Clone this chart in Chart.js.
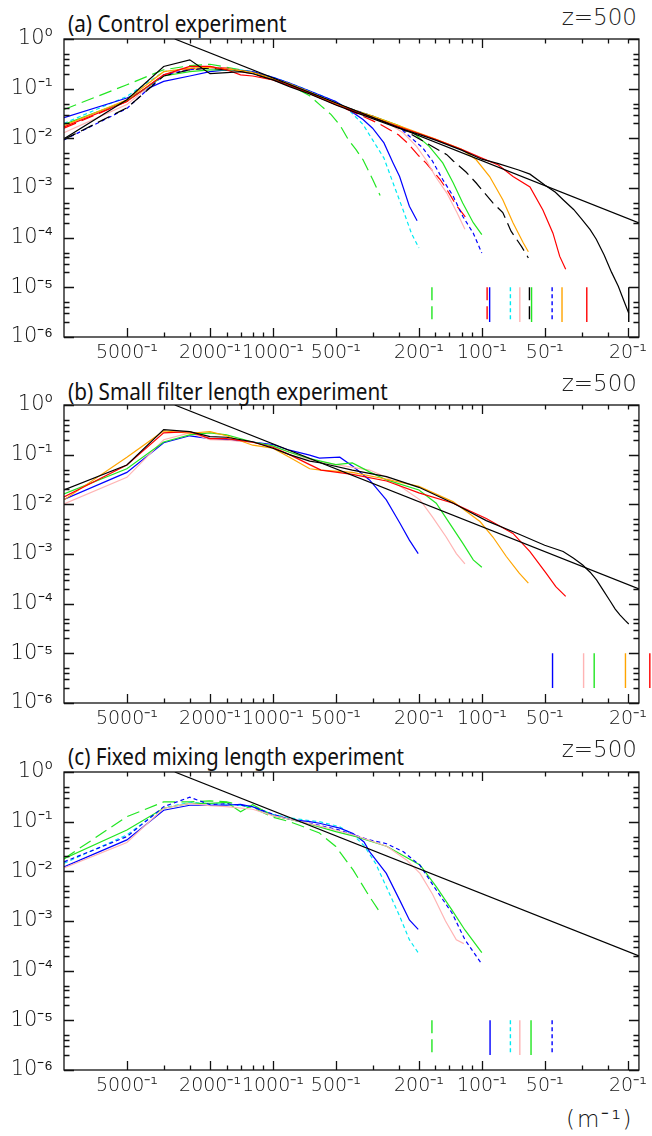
<!DOCTYPE html>
<html>
<head>
<meta charset="utf-8">
<script src="https://cdn.jsdelivr.net/npm/chart.js@4.4.1/dist/chart.umd.min.js"></script>
<style>
  body { margin: 0; background: #fff; width: 652px; height: 1136px; position: relative; overflow: hidden; }
  canvas { position: absolute; left: 0; }
  .ttl { position: absolute; left: 68px; font-family: "Noto Sans", sans-serif; font-size: 23px; line-height: 1; color: #111;
         transform: scaleX(0.9); transform-origin: left top; white-space: nowrap; }
  .z { position: absolute; right: 15px; font-family: "DejaVu Sans", sans-serif; font-weight: 200; font-size: 23px; line-height: 1; color: #222; }
  .unit { position: absolute; left: 566px; top: 1108px; font-family: "DejaVu Sans", sans-serif; font-weight: 200; font-size: 23px;
          line-height: 1; color: #111; letter-spacing: 2px; }
</style>
</head>
<body>
<div class="ttl" style="top:12px">(a) Control experiment</div>
<div class="z" style="top:6px">z=500</div>
<canvas id="chartA"></canvas>
<div class="ttl" style="top:380px">(b) Small filter length experiment</div>
<div class="z" style="top:372px">z=500</div>
<canvas id="chartB"></canvas>
<div class="ttl" style="top:745px">(c) Fixed mixing length experiment</div>
<div class="z" style="top:738px">z=500</div>
<canvas id="chartC"></canvas>
<div class="unit">(m⁻¹)</div>

<script>
// wavenumber index n : k = n / 10000 m^-1
const xTickVals = [2, 5, 10, 20, 50, 100, 200, 500];
const xTickLabels = ['5000⁻¹', '2000⁻¹', '1000⁻¹', '500⁻¹', '200⁻¹', '100⁻¹', '50⁻¹', '20⁻¹'];
const xMinor = [3, 4, 6, 7, 8, 9, 30, 40, 60, 70, 80, 90, 300, 400];
const yTickVals = [1e-6, 1e-5, 1e-4, 1e-3, 1e-2, 1e-1, 1];
const yTickLabels = ['10⁻⁶', '10⁻⁵', '10⁻⁴', '10⁻³', '10⁻²', '10⁻¹', '10⁰'];
const yMinor = [2, 3, 4, 5];

// -5/3 reference line
const refK = [3.39, 565];
const refE = [1, 1.98e-4];

// (a) Control experiment
const aGreenDashK = [1, 2, 3, 4, 5, 6, 7, 8, 10, 12, 15, 17, 19, 21, 23, 25, 27, 30, 32.6];
const aGreenDashE = [0.038, 0.12, 0.24, 0.29, 0.31, 0.27, 0.24, 0.21, 0.16, 0.12, 0.072, 0.045, 0.030, 0.018, 0.0093, 0.0059, 0.0037, 0.0015, 0.00071];
const aCyanDashK = [1, 2, 3, 4, 5, 6, 7, 8, 10, 12, 15, 20, 23, 27, 30, 34, 37.6, 42, 46, 50];
const aCyanDashE = [0.020, 0.07, 0.22, 0.26, 0.26, 0.25, 0.24, 0.22, 0.17, 0.13, 0.09, 0.055, 0.038, 0.019, 0.0093, 0.0040, 0.00126, 0.00036, 0.000123, 0.000062];
const aBlueK = [1, 2, 3, 4, 5, 6, 7, 8, 10, 12, 15, 20, 23, 27, 30, 34, 37.6, 40.4, 45, 49];
const aBlueE = [0.026, 0.065, 0.14, 0.18, 0.22, 0.24, 0.23, 0.22, 0.17, 0.13, 0.09, 0.055, 0.038, 0.024, 0.016, 0.0081, 0.0032, 0.0017, 0.00043, 0.00022];
const aRedDashK = [1, 2, 3, 4, 5, 6, 7, 8, 10, 12, 15, 20, 25, 32, 40, 44, 50, 54, 63, 68, 76, 84];
const aRedDashE = [0.016, 0.055, 0.19, 0.25, 0.27, 0.26, 0.22, 0.20, 0.15, 0.12, 0.08, 0.048, 0.032, 0.020, 0.0117, 0.0081, 0.0044, 0.0032, 0.0015, 0.00093, 0.00043, 0.00025];
const aPinkK = [1, 2, 3, 4, 5, 6, 7, 8, 10, 12, 15, 20, 25, 30, 35, 42, 48.7, 54, 60, 68, 76, 83];
const aPinkE = [0.013, 0.048, 0.19, 0.24, 0.26, 0.25, 0.23, 0.21, 0.16, 0.12, 0.085, 0.05, 0.035, 0.027, 0.021, 0.0129, 0.0069, 0.0037, 0.0017, 0.00079, 0.00032, 0.000148];
const aGreenK = [1, 2, 3, 4, 5, 6, 7, 8, 10, 12, 15, 20, 25, 30, 40, 47, 56, 65, 73, 81, 91, 100];
const aGreenE = [0.019, 0.057, 0.18, 0.22, 0.24, 0.24, 0.23, 0.21, 0.16, 0.125, 0.085, 0.05, 0.036, 0.028, 0.018, 0.0129, 0.0069, 0.0032, 0.00126, 0.0005, 0.0002, 0.000115];
const aBlueDashK = [1, 2, 3, 4, 5, 6, 7, 8, 10, 12, 15, 20, 25, 30, 40, 45, 52, 58, 65, 73, 81, 91, 100];
const aBlueDashE = [0.0093, 0.04, 0.19, 0.24, 0.27, 0.25, 0.23, 0.21, 0.16, 0.125, 0.085, 0.05, 0.036, 0.028, 0.017, 0.011, 0.0065, 0.0035, 0.00148, 0.00068, 0.00027, 0.000123, 0.000049];
const aBlackDashK = [1, 2, 3, 4, 5, 6, 7, 8, 10, 12, 15, 20, 25, 30, 40, 54, 68, 73, 84, 94, 113, 126, 138, 155, 167];
const aBlackDashE = [0.0095, 0.041, 0.18, 0.24, 0.26, 0.24, 0.23, 0.21, 0.16, 0.12, 0.083, 0.05, 0.035, 0.027, 0.017, 0.0081, 0.0047, 0.0035, 0.0021, 0.00126, 0.0005, 0.00032, 0.000135, 0.000066, 0.000039];
const aOrangeK = [1, 2, 3, 4, 5, 6, 7, 8, 10, 12, 15, 20, 25, 30, 40, 50, 60, 80, 94, 109, 126, 141, 158, 167];
const aOrangeE = [0.018, 0.06, 0.22, 0.26, 0.27, 0.25, 0.23, 0.21, 0.16, 0.125, 0.085, 0.05, 0.036, 0.028, 0.018, 0.0128, 0.0097, 0.006, 0.0037, 0.0017, 0.00058, 0.0002, 0.000078, 0.000052];
const aRedK = [1, 2, 3, 4, 5, 6, 7, 8, 10, 12, 15, 20, 25, 30, 40, 50, 60, 80, 100, 120, 141, 170, 196, 219, 236, 252];
const aRedE = [0.017, 0.055, 0.19, 0.28, 0.28, 0.24, 0.19, 0.18, 0.15, 0.115, 0.08, 0.048, 0.034, 0.026, 0.017, 0.0125, 0.0095, 0.006, 0.004, 0.0029, 0.0017, 0.00105, 0.00036, 0.000123, 0.000042, 0.000023];
const aBlackK = [1, 2, 3, 4, 5, 6, 7, 8, 10, 12, 15, 20, 25, 30, 40, 50, 60, 80, 100, 120, 150, 170, 200, 225, 245, 275, 300, 330, 353, 385, 418, 450, 480, 505];
const aBlackE = [0.0098, 0.06, 0.28, 0.38, 0.2, 0.21, 0.22, 0.2, 0.15, 0.11, 0.078, 0.047, 0.033, 0.025, 0.016, 0.012, 0.0092, 0.0058, 0.0038, 0.0031, 0.0023, 0.0019, 0.00115, 0.00082, 0.00058, 0.00037, 0.00024, 0.000145, 0.000093, 0.000045, 0.000020, 0.0000105, 0.0000052, 0.000003];
// cutoff marks (a)
const aMarkK = [57.7, 106, 109, 137, 152, 169, 173, 217, 242, 318, 505];

// (b) Small filter length experiment
const bBlueK = [1, 2, 3, 4, 5, 6, 8, 10, 12, 15, 16.7, 20.9, 24.2, 29, 34.9, 40.5, 45, 49.6];
const bBlueE = [0.0126, 0.044, 0.174, 0.24, 0.21, 0.20, 0.18, 0.16, 0.123, 0.098, 0.085, 0.089, 0.058, 0.031, 0.0123, 0.0042, 0.0019, 0.00102];
const bPinkK = [1, 2, 3, 4, 5, 6, 8, 10, 12, 15, 20, 29, 35, 42, 50.6, 58, 67.5, 75.5, 83];
const bPinkE = [0.0102, 0.035, 0.2, 0.275, 0.2, 0.195, 0.178, 0.148, 0.112, 0.079, 0.063, 0.049, 0.035, 0.021, 0.0123, 0.0056, 0.0022, 0.00102, 0.00063];
const bGreenK = [1, 2, 3, 4, 5, 6, 8, 10, 12, 15, 20, 24, 29, 35, 50, 60.5, 70, 81, 91, 100];
const bGreenE = [0.0162, 0.052, 0.18, 0.25, 0.275, 0.25, 0.18, 0.15, 0.112, 0.083, 0.063, 0.068, 0.045, 0.031, 0.0195, 0.0105, 0.0042, 0.00166, 0.00076, 0.00054];
const bOrangeK = [1, 2, 3, 4, 5, 6, 8, 10, 12, 15, 17, 24, 35, 50, 73, 98, 113, 131, 151, 167];
const bOrangeE = [0.0123, 0.089, 0.30, 0.27, 0.29, 0.24, 0.155, 0.135, 0.089, 0.052, 0.049, 0.044, 0.032, 0.023, 0.0112, 0.0045, 0.0022, 0.00089, 0.00041, 0.00026];
const bRedK = [1, 2, 3, 4, 5, 6, 8, 10, 12, 15, 17, 24, 35, 50, 73, 105, 141, 170, 203, 226, 252];
const bRedE = [0.0141, 0.062, 0.275, 0.29, 0.21, 0.21, 0.178, 0.141, 0.1, 0.063, 0.049, 0.04, 0.0295, 0.017, 0.0105, 0.0052, 0.0026, 0.00112, 0.00041, 0.00022, 0.00014];
const bBlackK = [1, 2, 3, 4, 5, 6, 8, 10, 12, 15, 17, 24, 35, 50, 73, 105, 151, 200, 245, 275, 304, 330, 354, 380, 409, 435, 459, 485, 505];
const bBlackE = [0.0195, 0.062, 0.32, 0.29, 0.23, 0.224, 0.182, 0.135, 0.1, 0.074, 0.068, 0.049, 0.036, 0.022, 0.0105, 0.0047, 0.0025, 0.0015, 0.00112, 0.00082, 0.0006, 0.00043, 0.0003, 0.00019, 0.000117, 0.000078, 0.000059, 0.000046, 0.000039];
const bMarkK = [218, 307, 345, 487, 637];

// (c) Fixed mixing length experiment
const cGreenDashK = [1, 2, 3, 4, 5, 6, 8, 10, 12, 14, 16.7, 20, 24.2, 29, 32.6];
const cGreenDashE = [0.018, 0.126, 0.25, 0.25, 0.263, 0.25, 0.19, 0.123, 0.1, 0.079, 0.059, 0.0316, 0.0107, 0.0031, 0.00148];
const cGreenK = [1, 2, 3, 4, 5, 6, 7, 8, 10, 12, 15, 20, 25, 35, 50.6, 60.5, 72, 83, 100];
const cGreenE = [0.018, 0.068, 0.186, 0.234, 0.234, 0.245, 0.158, 0.219, 0.132, 0.112, 0.089, 0.063, 0.05, 0.032, 0.0135, 0.0049, 0.00166, 0.00066, 0.00023];
const cBlueDashK = [1, 2, 3, 4, 5, 6, 8, 10, 12, 15, 20, 29, 35, 42, 50.6, 60.5, 72, 83, 100];
const cBlueDashE = [0.0155, 0.05, 0.2, 0.31, 0.22, 0.23, 0.2, 0.141, 0.112, 0.093, 0.071, 0.043, 0.036, 0.025, 0.0132, 0.0042, 0.00145, 0.00042, 0.000135];
const cCyanDashK = [1, 2, 3, 4, 5, 6, 8, 10, 12, 15, 16.7, 20.9, 24.2, 27.3, 31, 34.9, 40.5, 45, 49.6];
const cCyanDashE = [0.0145, 0.054, 0.19, 0.245, 0.23, 0.224, 0.2, 0.141, 0.12, 0.105, 0.1, 0.079, 0.054, 0.033, 0.0145, 0.0049, 0.00123, 0.00042, 0.00023];
const cBlueK = [1, 2, 3, 4, 5, 6, 7, 8, 10, 12, 15, 16.7, 20.9, 24.2, 27.3, 29, 34.9, 40.5, 45, 49.6];
const cBlueE = [0.0123, 0.043, 0.17, 0.214, 0.214, 0.214, 0.224, 0.2, 0.135, 0.112, 0.1, 0.093, 0.074, 0.058, 0.039, 0.025, 0.0091, 0.0026, 0.00105, 0.00068];
const cPinkK = [1, 2, 3, 4, 5, 6, 8, 10, 12, 15, 20, 25, 35, 43.6, 50.6, 58, 67, 75.5, 82];
const cPinkE = [0.0117, 0.038, 0.186, 0.234, 0.209, 0.2, 0.178, 0.132, 0.112, 0.091, 0.068, 0.052, 0.032, 0.017, 0.0091, 0.0035, 0.001, 0.00042, 0.00035];
const cMarkK = [57.7, 109.5, 137, 152, 172, 217];

const markTop = 1e-5, markBottom = 2e-6;

const GREEN = '#22e622', CYAN = '#00eaf2', BLUE = '#0000ff', RED = '#ff0000',
      PINK = '#ffb4b4', ORANGE = '#ffa500', BLACK = '#000000';
const LONG = [13, 6], SHORT = [4, 3], SOLID = [];

function series(k, e, color, dash) {
    return {
        data: k.map((v, i) => ({ x: v, y: e[i] })),
        borderColor: color, borderWidth: 1.2, borderDash: dash,
        pointRadius: 0, fill: false, tension: 0
    };
}

function mark(k, color, dash) {
    const ds = series([k, k], [markTop, markBottom], color, dash);
    ds.borderWidth = 1.4;
    ds.clip = false;
    return ds;
}

// frame plus inward tick marks, placed with the chart's own scales
const frameTicks = {
    id: 'frameTicks',
    afterDatasetsDraw(chart) {
        const { ctx, chartArea: a, scales: { x, y } } = chart;
        ctx.save();
        ctx.strokeStyle = '#111';
        ctx.lineWidth = 1.3;
        ctx.strokeRect(a.left, a.top, a.right - a.left, a.bottom - a.top);
        ctx.beginPath();
        const xt = (v, lb, lt) => {
            const p = Math.round(x.getPixelForValue(v)) + 0.5;
            ctx.moveTo(p, a.bottom); ctx.lineTo(p, a.bottom - lb);
            ctx.moveTo(p, a.top); ctx.lineTo(p, a.top + lt);
        };
        xTickVals.forEach(v => xt(v, 9, (v === 10 || v === 100) ? 9 : 4.5));
        xMinor.forEach(v => xt(v, 4.5, 4.5));
        const yt = (v, l) => {
            const p = Math.round(y.getPixelForValue(v)) + 0.5;
            ctx.moveTo(a.left, p); ctx.lineTo(a.left + l, p);
            ctx.moveTo(a.right, p); ctx.lineTo(a.right - l, p);
        };
        yTickVals.forEach(v => yt(v, 10));
        yTickVals.slice(0, -1).forEach(d => yMinor.forEach(m => yt(d * m, 5.5)));
        ctx.stroke();
        ctx.restore();
    }
};

const xFont = { family: '"DejaVu Sans", sans-serif', size: 19, weight: 200 };
const yFont = { family: '"DejaVu Sans", sans-serif', size: 21, weight: 200 };

function makePanel(id, top, bottom, datasets) {
    const padTop = 40, axisH = 34;
    const cv = document.getElementById(id);
    const h = Math.round(bottom - top) + padTop + axisH;
    cv.width = 652; cv.height = h;
    cv.style.top = (top - padTop) + 'px';
    cv.style.width = '652px'; cv.style.height = h + 'px';
    return new Chart(cv, {
        type: 'line',
        data: { datasets },
        options: {
            responsive: false, animation: false, devicePixelRatio: 1,
            layout: { padding: { top: padTop, right: 13, left: 0, bottom: 0 } },
            plugins: { legend: { display: false }, tooltip: { enabled: false } },
            scales: {
                x: {
                    type: 'logarithmic', min: 1, max: 565,
                    grid: { display: false, drawTicks: false }, border: { display: false },
                    afterBuildTicks: s => { s.ticks = xTickVals.map(v => ({ value: v })); },
                    afterFit: s => { s.height = axisH; },
                    ticks: {
                        autoSkip: false, maxRotation: 0, minRotation: 0, padding: 5,
                        color: '#111', font: xFont,
                        callback: (v, i) => xTickLabels[i]
                    }
                },
                y: {
                    type: 'logarithmic', min: 1e-6, max: 1,
                    grid: { display: false, drawTicks: false }, border: { display: false },
                    afterBuildTicks: s => { s.ticks = yTickVals.map(v => ({ value: v })); },
                    afterFit: s => { s.width = 64; },
                    ticks: {
                        autoSkip: false, padding: 11, color: '#111', font: yFont,
                        callback: (v, i) => yTickLabels[i]
                    }
                }
            }
        },
        plugins: [frameTicks]
    });
}

makePanel('chartA', 39.3, 337.3, [
    series(refK, refE, BLACK, SOLID),
    series(aBlackK, aBlackE, BLACK, SOLID),
    series(aRedK, aRedE, RED, SOLID),
    series(aOrangeK, aOrangeE, ORANGE, SOLID),
    series(aBlackDashK, aBlackDashE, BLACK, LONG),
    series(aBlueDashK, aBlueDashE, BLUE, SHORT),
    series(aGreenK, aGreenE, GREEN, SOLID),
    series(aPinkK, aPinkE, PINK, SOLID),
    series(aRedDashK, aRedDashE, RED, LONG),
    series(aBlueK, aBlueE, BLUE, SOLID),
    series(aCyanDashK, aCyanDashE, CYAN, SHORT),
    series(aGreenDashK, aGreenDashE, GREEN, LONG),
    mark(aMarkK[0], GREEN, LONG), mark(aMarkK[1], RED, LONG), mark(aMarkK[2], BLUE, SOLID),
    mark(aMarkK[3], CYAN, SHORT), mark(aMarkK[4], PINK, SOLID), mark(aMarkK[5], BLACK, LONG),
    mark(aMarkK[6], GREEN, SOLID), mark(aMarkK[7], BLUE, SHORT), mark(aMarkK[8], ORANGE, SOLID),
    mark(aMarkK[9], RED, SOLID), mark(aMarkK[10], BLACK, SOLID)
]);

makePanel('chartB', 405, 703.3, [
    series(refK, refE, BLACK, SOLID),
    series(bBlackK, bBlackE, BLACK, SOLID),
    series(bRedK, bRedE, RED, SOLID),
    series(bOrangeK, bOrangeE, ORANGE, SOLID),
    series(bGreenK, bGreenE, GREEN, SOLID),
    series(bPinkK, bPinkE, PINK, SOLID),
    series(bBlueK, bBlueE, BLUE, SOLID),
    mark(bMarkK[0], BLUE, SOLID), mark(bMarkK[1], PINK, SOLID), mark(bMarkK[2], GREEN, SOLID),
    mark(bMarkK[3], ORANGE, SOLID), mark(bMarkK[4], RED, SOLID)
]);

makePanel('chartC', 772, 1069.5, [
    series(refK, refE, BLACK, SOLID),
    series(cPinkK, cPinkE, PINK, SOLID),
    series(cBlueDashK, cBlueDashE, BLUE, SHORT),
    series(cGreenK, cGreenE, GREEN, SOLID),
    series(cBlueK, cBlueE, BLUE, SOLID),
    series(cCyanDashK, cCyanDashE, CYAN, SHORT),
    series(cGreenDashK, cGreenDashE, GREEN, LONG),
    mark(cMarkK[0], GREEN, LONG), mark(cMarkK[1], BLUE, SOLID), mark(cMarkK[2], CYAN, SHORT),
    mark(cMarkK[3], PINK, SOLID), mark(cMarkK[4], GREEN, SOLID), mark(cMarkK[5], BLUE, SHORT)
]);
</script>
</body>
</html>
